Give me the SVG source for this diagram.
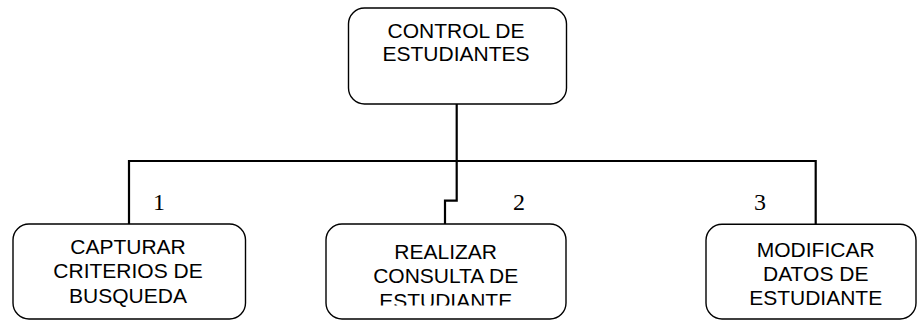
<svg xmlns="http://www.w3.org/2000/svg" width="917" height="320" viewBox="0 0 917 320">
<style>
.box{fill:#fff;stroke:#000;stroke-width:1.4}
.t{font-family:"Liberation Sans",Arial,sans-serif;font-size:21px;fill:#000;text-anchor:middle}
.n{font-family:"Liberation Serif","Times New Roman",serif;font-size:24px;fill:#000;text-anchor:middle}
.c{fill:none;stroke:#000;stroke-width:2.2}
</style>
<defs>
<clipPath id="clip2"><rect x="326" y="224" width="240" height="81.5"/></clipPath>
</defs>
<rect width="917" height="320" fill="#fff"/>
<g id="connectors">
<path class="c" d="M456.7 104 V161"/>
<path class="c" d="M129 224 V161 H815.7 V224"/>
<path class="c" d="M456.7 161 V200.7 H445 V224"/>
</g>
<g id="n0">
<rect class="box" x="348.5" y="8" width="218" height="96" rx="16"/>
<text class="t" x="456" y="38">CONTROL DE</text>
<text class="t" x="456" y="61">ESTUDIANTES</text>
</g>
<g id="n1">
<rect class="box" x="13" y="224" width="232.5" height="95" rx="16"/>
<text class="t" x="128" y="253.5">CAPTURAR</text>
<text class="t" x="128" y="278.3">CRITERIOS DE</text>
<text class="t" x="128" y="302.7">BUSQUEDA</text>
<text class="n" x="159" y="210">1</text>
</g>
<g id="n2">
<rect class="box" x="326" y="224" width="240" height="95" rx="16"/>
<text class="t" x="445.7" y="259">REALIZAR</text>
<text class="t" x="445.7" y="282.7">CONSULTA DE</text>
<text class="t" x="445.7" y="307.5" clip-path="url(#clip2)">ESTUDIANTE</text>
<text class="n" x="519" y="210">2</text>
</g>
<g id="n3">
<rect class="box" x="706" y="224.3" width="210" height="94.7" rx="16"/>
<text class="t" x="815.7" y="256.7">MODIFICAR</text>
<text class="t" x="815.7" y="280.7">DATOS DE</text>
<text class="t" x="815.7" y="305">ESTUDIANTE</text>
<text class="n" x="760" y="210">3</text>
</g>
</svg>
